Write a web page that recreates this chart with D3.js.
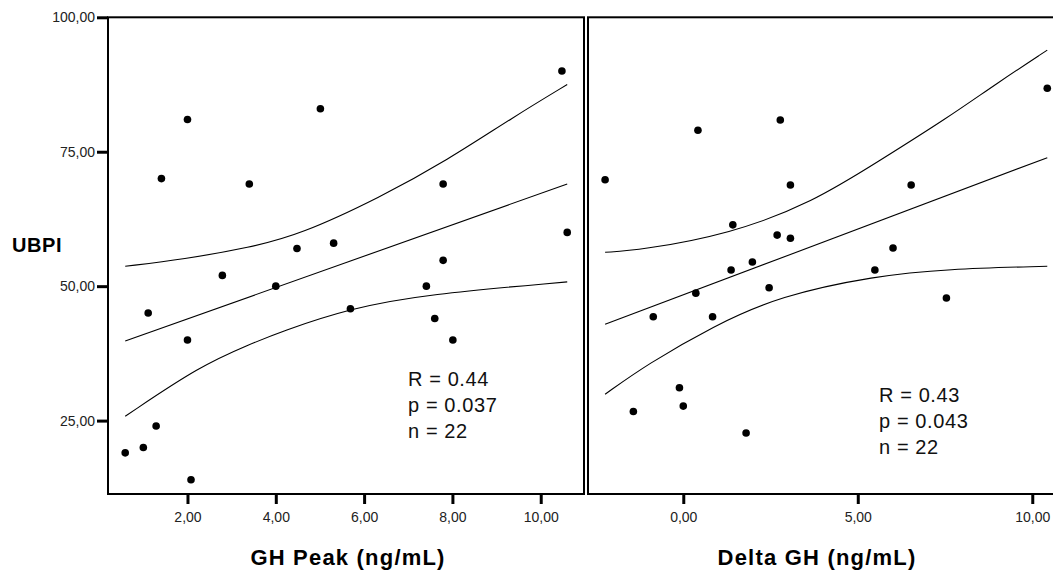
<!DOCTYPE html>
<html><head><meta charset="utf-8">
<script src="https://cdn.jsdelivr.net/npm/d3@7"></script>
<style>body{margin:0;background:#fff}svg{display:block}text{font-family:"Liberation Sans",Arial,sans-serif}</style>
</head><body><svg id="c" width="1053" height="571"></svg>
<script>
// Left panel: GH Peak vs UBPI
const ghPeakX = [0.59,1.0,1.29,2.08,1.11,2.0,2.79,4.0,4.48,2.0,1.41,3.4,5.01,10.48,7.79,10.6,5.31,7.79,7.41,5.69,7.6,8.01];
const ghPeakY = [19,20,24,14,45,40,52,50,57,81,70,69,83,90,69,60,58,54.8,50,45.8,44,40];
// Right panel: Delta GH vs UBPI
const deltaX = [-2.24,0.42,2.78,10.43,3.07,6.53,1.42,2.69,3.07,6.01,1.37,1.98,0.36,-0.86,0.84,2.46,5.49,7.54,-0.11,-1.43,0.0,1.8];
const deltaY = [69.8,79,80.9,86.8,68.8,68.8,61.4,59.5,58.9,57.1,53,54.5,48.7,44.3,44.3,49.7,53,47.8,31.1,26.7,27.7,22.7];
// Fit lines and confidence curves
const leftFitX = [0.59,10.6], leftFitY = [39.8,69.0];
const leftUpX = [0.59,1.91,3.42,4.55,6.36,7.88,9.39,10.6];
const leftUpY = [53.7,55.0,57.2,59.6,66.5,73.4,81.5,87.5];
const leftLoX = [0.59,2.29,3.42,4.1,5.69,7.42,10.6];
const leftLoY = [25.8,35.2,39.2,41.5,45.9,48.5,50.8];
const rightFitX = [-2.24,10.43], rightFitY = [42.9,73.9];
const rightUpX = [-2.24,-1.24,1.34,3.72,5.64,7.55,8.98,10.43];
const rightUpY = [56.3,56.7,59.7,65.6,73.4,81.2,87.7,93.9];
const rightLoX = [-2.24,-1.05,0.86,2.77,5.49,7.55,10.43];
const rightLoY = [29.9,35.4,42.6,48.2,51.9,53.2,53.7];
const yTicks = [25,50,75,100];
const leftXTicks = [2,4,6,8,10];
const rightXTicks = [0,5,10];
const statsLeft = ["R = 0.44","p = 0.037","n = 22"];
const statsRight = ["R = 0.43","p = 0.043","n = 22"];
const yTitle = "UBPI", leftXTitle = "GH Peak (ng/mL)", rightXTitle = "Delta GH (ng/mL)";

const svg = d3.select("#c");
const fmt = d => d.toFixed(2).replace(".", ",");
const y = d3.scaleLinear().domain([11.35,100]).range([494,17.3]);
const xL = d3.scaleLinear().domain([0.2,10.98]).range([108,584]);
const xR = d3.scaleLinear().domain([-2.73,10.68]).range([588,1056]);

function panel(x, xs, ys, fx, fy, ux, uy, lx, ly, stats, sx, sy, ticks, title, titleX){
  const [x0,x1] = x.range();
  svg.append("rect").attr("x",x0).attr("y",y.range()[1]).attr("width",x1-x0).attr("height",y.range()[0]-y.range()[1])
    .attr("fill","none").attr("stroke","#000").attr("stroke-width",2);
  const line = d3.line().x(d=>x(d[0])).y(d=>y(d[1])).curve(d3.curveBasis);
  [[fx,fy],[ux,uy],[lx,ly]].forEach(([a,b])=>{
    svg.append("path").datum(a.map((v,i)=>[v,b[i]])).attr("d",line).attr("fill","none").attr("stroke","#000").attr("stroke-width",1.1);
  });
  svg.append("g").selectAll("circle").data(xs.map((v,i)=>[v,ys[i]])).join("circle")
    .attr("cx",d=>x(d[0])).attr("cy",d=>y(d[1])).attr("r",3.8).attr("fill","#000");
  const ax = d3.axisBottom(x).tickValues(ticks).tickFormat(fmt).tickSize(10).tickPadding(8);
  const g = svg.append("g").attr("transform","translate(0,494)").call(ax);
  g.select(".domain").remove();
  g.selectAll("line").attr("stroke","#000").attr("stroke-width",3);
  g.selectAll("text").attr("font-size",14).attr("fill","#222").style("font-family","Liberation Sans, Arial");
  svg.append("text").attr("x",titleX).attr("y",565).attr("text-anchor","middle").attr("font-size",22).attr("font-weight","bold")
    .attr("letter-spacing",1.2).text(title);
  stats.forEach((s,i)=>svg.append("text").attr("x",sx).attr("y",sy+i*26).attr("font-size",20).attr("letter-spacing",0.6).attr("fill","#111").text(s));
}

panel(xL, ghPeakX, ghPeakY, leftFitX, leftFitY, leftUpX, leftUpY, leftLoX, leftLoY, statsLeft, 408, 386, leftXTicks, leftXTitle, 348);
panel(xR, deltaX, deltaY, rightFitX, rightFitY, rightUpX, rightUpY, rightLoX, rightLoY, statsRight, 879, 402, rightXTicks, rightXTitle, 817);

const ay = d3.axisLeft(y).tickValues(yTicks).tickFormat(fmt).tickSize(11).tickPadding(2);
const gy = svg.append("g").attr("transform","translate(108,0)").call(ay);
gy.select(".domain").remove();
gy.selectAll("line").attr("stroke","#000").attr("stroke-width",3);
gy.selectAll("text").attr("font-size",14).attr("fill","#222").style("font-family","Liberation Sans, Arial");
svg.append("text").attr("x",12).attr("y",252).attr("font-size",20).attr("font-weight","bold").attr("letter-spacing",0.6).text(yTitle);
</script></body></html>
